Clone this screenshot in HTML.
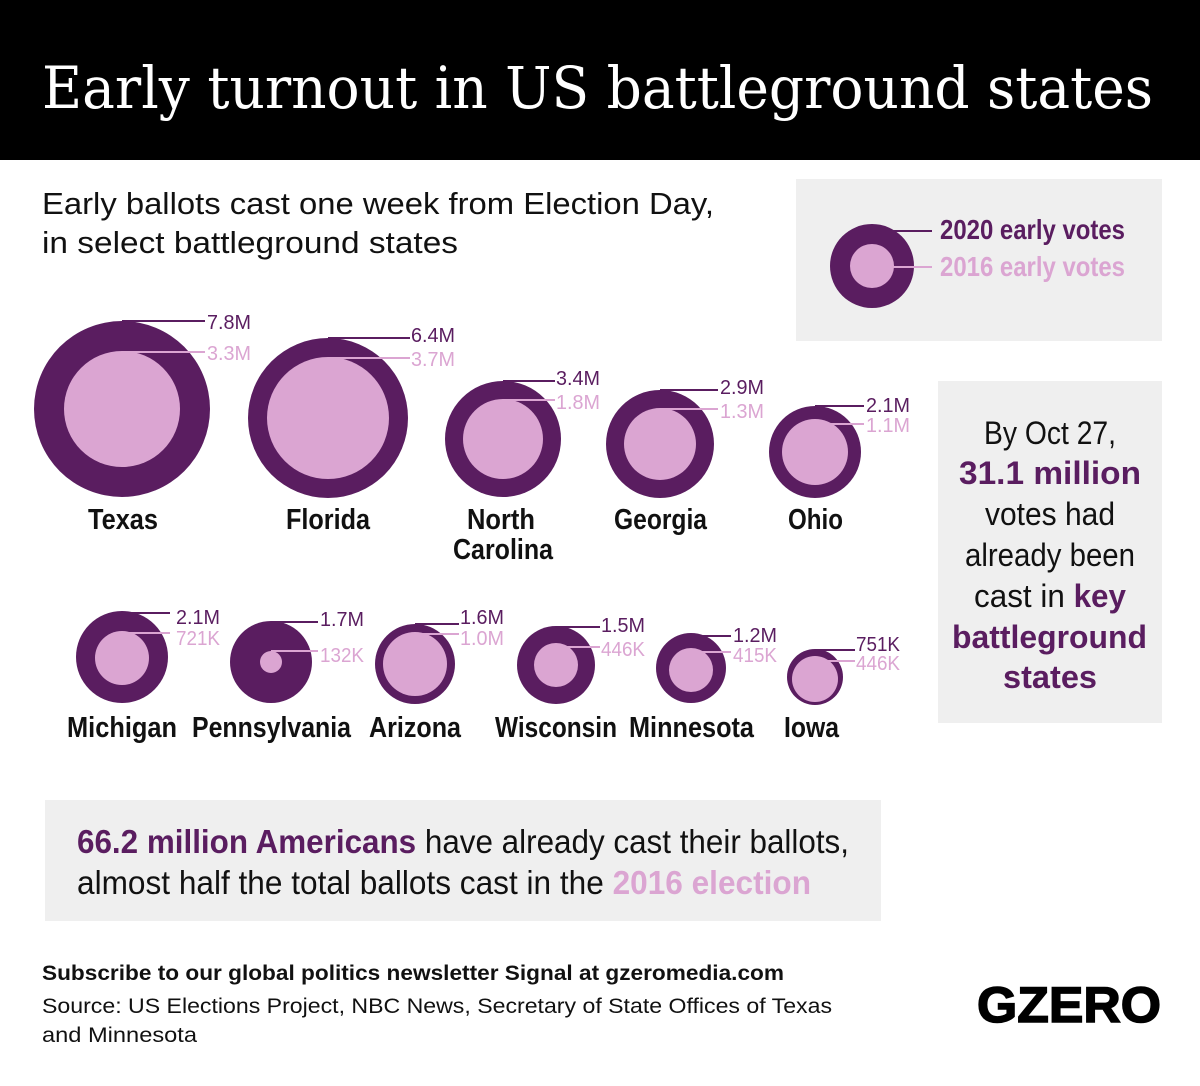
<!DOCTYPE html>
<html><head><meta charset="utf-8"><style>
html,body{margin:0;padding:0;background:#fff}
svg{display:block}
.c{font-family:"Liberation Sans",sans-serif}
</style></head><body>
<svg width="1200" height="1086" viewBox="0 0 1200 1086" xmlns="http://www.w3.org/2000/svg">
<rect x="0" y="0" width="1200" height="160" fill="#000"/>
<text x="42" y="108" font-family="'DejaVu Serif','Liberation Serif',serif" font-size="58" fill="#fff" textLength="1111" lengthAdjust="spacingAndGlyphs">Early turnout in US battleground states</text>

<g font-family="'Liberation Sans',sans-serif" font-size="31" fill="#111">
<text x="42" y="214" textLength="672" lengthAdjust="spacingAndGlyphs">Early ballots cast one week from Election Day,</text>
<text x="42" y="253" textLength="416" lengthAdjust="spacingAndGlyphs">in select battleground states</text>
</g>

<rect x="796" y="179" width="366" height="162" fill="#efefef"/>
<circle cx="872" cy="266" r="42" fill="#5a1d60"/>
<circle cx="872" cy="266" r="22" fill="#dba5d2"/>
<line x1="872" y1="231" x2="932" y2="231" stroke="#5a1d60" stroke-width="2"/>
<line x1="872" y1="267" x2="932" y2="267" stroke="#dba5d2" stroke-width="2"/>
<g class="c" font-size="28" font-weight="bold">
<text x="940" y="239" fill="#5a1d60" textLength="185" lengthAdjust="spacingAndGlyphs">2020 early votes</text>
<text x="940" y="276" fill="#dba5d2" textLength="185" lengthAdjust="spacingAndGlyphs">2016 early votes</text>
</g>

<g>
<circle cx="122" cy="409" r="88" fill="#5a1d60"/><circle cx="122" cy="409" r="58" fill="#dba5d2"/>
<circle cx="328" cy="418" r="80" fill="#5a1d60"/><circle cx="328" cy="418" r="61" fill="#dba5d2"/>
<circle cx="503" cy="439" r="58" fill="#5a1d60"/><circle cx="503" cy="439" r="40" fill="#dba5d2"/>
<circle cx="660" cy="444" r="54" fill="#5a1d60"/><circle cx="660" cy="444" r="36" fill="#dba5d2"/>
<circle cx="815" cy="452" r="46" fill="#5a1d60"/><circle cx="815" cy="452" r="33" fill="#dba5d2"/>
<circle cx="122" cy="657" r="46" fill="#5a1d60"/><circle cx="122" cy="658" r="27" fill="#dba5d2"/>
<circle cx="271" cy="662" r="41" fill="#5a1d60"/><circle cx="271" cy="662" r="11" fill="#dba5d2"/>
<circle cx="415" cy="664" r="40" fill="#5a1d60"/><circle cx="415" cy="664" r="32" fill="#dba5d2"/>
<circle cx="556" cy="665" r="39" fill="#5a1d60"/><circle cx="556" cy="665" r="22" fill="#dba5d2"/>
<circle cx="691" cy="668" r="35" fill="#5a1d60"/><circle cx="691" cy="670" r="22" fill="#dba5d2"/>
<circle cx="815" cy="677" r="28" fill="#5a1d60"/><circle cx="815" cy="679" r="23" fill="#dba5d2"/>
</g>
<g stroke-width="2">
<line x1="122" y1="321" x2="205" y2="321" stroke="#5a1d60"/><line x1="122" y1="352" x2="205" y2="352" stroke="#dba5d2"/>
<line x1="328" y1="338" x2="410" y2="338" stroke="#5a1d60"/><line x1="328" y1="358" x2="410" y2="358" stroke="#dba5d2"/>
<line x1="503" y1="381" x2="555" y2="381" stroke="#5a1d60"/><line x1="503" y1="400" x2="555" y2="400" stroke="#dba5d2"/>
<line x1="660" y1="390" x2="718" y2="390" stroke="#5a1d60"/><line x1="660" y1="409" x2="718" y2="409" stroke="#dba5d2"/>
<line x1="815" y1="406" x2="864" y2="406" stroke="#5a1d60"/><line x1="815" y1="424" x2="864" y2="424" stroke="#dba5d2"/>
<line x1="122" y1="613" x2="170" y2="613" stroke="#5a1d60"/><line x1="122" y1="633" x2="170" y2="633" stroke="#dba5d2"/>
<line x1="271" y1="622" x2="318" y2="622" stroke="#5a1d60"/><line x1="271" y1="651" x2="318" y2="651" stroke="#dba5d2"/>
<line x1="415" y1="624" x2="459" y2="624" stroke="#5a1d60"/><line x1="415" y1="634" x2="459" y2="634" stroke="#dba5d2"/>
<line x1="556" y1="627" x2="600" y2="627" stroke="#5a1d60"/><line x1="556" y1="647" x2="600" y2="647" stroke="#dba5d2"/>
<line x1="691" y1="636" x2="731" y2="636" stroke="#5a1d60"/><line x1="691" y1="652" x2="731" y2="652" stroke="#dba5d2"/>
<line x1="815" y1="650" x2="855" y2="650" stroke="#5a1d60"/><line x1="815" y1="661" x2="855" y2="661" stroke="#dba5d2"/>
</g>
<g class="c" font-size="20" lengthAdjust="spacingAndGlyphs">
<g fill="#5a1d60">
<text x="207" y="329" textLength="44" lengthAdjust="spacingAndGlyphs">7.8M</text><text x="411" y="342" textLength="44" lengthAdjust="spacingAndGlyphs">6.4M</text><text x="556" y="385" textLength="44" lengthAdjust="spacingAndGlyphs">3.4M</text><text x="720" y="394" textLength="44" lengthAdjust="spacingAndGlyphs">2.9M</text><text x="866" y="412" textLength="44" lengthAdjust="spacingAndGlyphs">2.1M</text>
<text x="176" y="624" textLength="44" lengthAdjust="spacingAndGlyphs">2.1M</text><text x="320" y="626" textLength="44" lengthAdjust="spacingAndGlyphs">1.7M</text><text x="460" y="624" textLength="44" lengthAdjust="spacingAndGlyphs">1.6M</text><text x="601" y="632" textLength="44" lengthAdjust="spacingAndGlyphs">1.5M</text><text x="733" y="642" textLength="44" lengthAdjust="spacingAndGlyphs">1.2M</text><text x="856" y="651" textLength="44" lengthAdjust="spacingAndGlyphs">751K</text>
</g>
<g fill="#dba5d2">
<text x="207" y="360" textLength="44" lengthAdjust="spacingAndGlyphs">3.3M</text><text x="411" y="366" textLength="44" lengthAdjust="spacingAndGlyphs">3.7M</text><text x="556" y="409" textLength="44" lengthAdjust="spacingAndGlyphs">1.8M</text><text x="720" y="418" textLength="44" lengthAdjust="spacingAndGlyphs">1.3M</text><text x="866" y="432" textLength="44" lengthAdjust="spacingAndGlyphs">1.1M</text>
<text x="176" y="645" textLength="44" lengthAdjust="spacingAndGlyphs">721K</text><text x="320" y="662" textLength="44" lengthAdjust="spacingAndGlyphs">132K</text><text x="460" y="645" textLength="44" lengthAdjust="spacingAndGlyphs">1.0M</text><text x="601" y="656" textLength="44" lengthAdjust="spacingAndGlyphs">446K</text><text x="733" y="662" textLength="44" lengthAdjust="spacingAndGlyphs">415K</text><text x="856" y="670" textLength="44" lengthAdjust="spacingAndGlyphs">446K</text>
</g>
</g>
<g class="c" font-size="29" font-weight="bold" fill="#111">
<text x="88" y="529" textLength="70" lengthAdjust="spacingAndGlyphs">Texas</text>
<text x="286" y="529" textLength="84" lengthAdjust="spacingAndGlyphs">Florida</text>
<text x="467" y="529" textLength="68" lengthAdjust="spacingAndGlyphs">North</text>
<text x="453" y="559" textLength="100" lengthAdjust="spacingAndGlyphs">Carolina</text>
<text x="614" y="529" textLength="93" lengthAdjust="spacingAndGlyphs">Georgia</text>
<text x="788" y="529" textLength="55" lengthAdjust="spacingAndGlyphs">Ohio</text>
<text x="67" y="737" textLength="110" lengthAdjust="spacingAndGlyphs">Michigan</text>
<text x="192" y="737" textLength="159" lengthAdjust="spacingAndGlyphs">Pennsylvania</text>
<text x="369" y="737" textLength="92" lengthAdjust="spacingAndGlyphs">Arizona</text>
<text x="495" y="737" textLength="122" lengthAdjust="spacingAndGlyphs">Wisconsin</text>
<text x="629" y="737" textLength="125" lengthAdjust="spacingAndGlyphs">Minnesota</text>
<text x="784" y="737" textLength="55" lengthAdjust="spacingAndGlyphs">Iowa</text>
</g>

<rect x="938" y="381" width="224" height="342" fill="#efefef"/>
<g class="c" font-size="32" fill="#111">
<text x="984" y="444" textLength="132" lengthAdjust="spacingAndGlyphs">By Oct 27,</text>
<text x="959" y="484" font-weight="bold" fill="#5a1d60" textLength="182" lengthAdjust="spacingAndGlyphs">31.1 million</text>
<text x="985" y="525" textLength="130" lengthAdjust="spacingAndGlyphs">votes had</text>
<text x="965" y="566" textLength="170" lengthAdjust="spacingAndGlyphs">already been</text>
<text x="974" y="607" textLength="152" lengthAdjust="spacingAndGlyphs">cast in <tspan font-weight="bold" fill="#5a1d60">key</tspan></text>
<text x="952" y="648" font-weight="bold" fill="#5a1d60" textLength="195" lengthAdjust="spacingAndGlyphs">battleground</text>
<text x="1003" y="688" font-weight="bold" fill="#5a1d60" textLength="94" lengthAdjust="spacingAndGlyphs">states</text>
</g>

<rect x="45" y="800" width="836" height="121" fill="#efefef"/>
<g class="c" font-size="33" fill="#111">
<text x="77" y="853" textLength="772" lengthAdjust="spacingAndGlyphs"><tspan font-weight="bold" fill="#5a1d60">66.2 million Americans</tspan> have already cast their ballots,</text>
<text x="77" y="894" textLength="734" lengthAdjust="spacingAndGlyphs">almost half the total ballots cast in the <tspan font-weight="bold" fill="#dba5d2">2016 election</tspan></text>
</g>

<g font-family="'Liberation Sans',sans-serif" fill="#111">
<text x="42" y="980" font-size="21" font-weight="bold" textLength="742" lengthAdjust="spacingAndGlyphs">Subscribe to our global politics newsletter Signal at gzeromedia.com</text>
<text x="42" y="1013" font-size="21" textLength="790" lengthAdjust="spacingAndGlyphs">Source: US Elections Project, NBC News, Secretary of State Offices of Texas</text>
<text x="42" y="1042" font-size="21" textLength="155" lengthAdjust="spacingAndGlyphs">and Minnesota</text>
<text x="977" y="1022" font-size="50" font-weight="bold" fill="#000" textLength="184" lengthAdjust="spacingAndGlyphs" stroke="#000" stroke-width="1.5">GZERO</text>
</g>
</svg>
</body></html>
